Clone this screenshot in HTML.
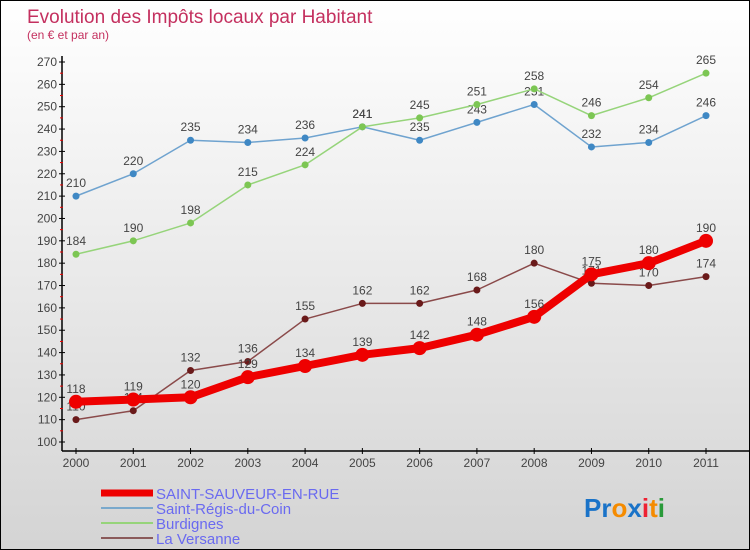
<!DOCTYPE html>
<html><head><meta charset="utf-8"><style>
body{margin:0}
#c{position:relative;width:748px;height:548px;border:1px solid #000;background:linear-gradient(#ffffff,#d4d4d4);font-family:"Liberation Sans",sans-serif;overflow:hidden}
</style></head><body>
<div id="c">
<svg width="748" height="548" id="svg" style="position:absolute;left:0;top:0">
<text x="26" y="22" font-size="19" fill="#c4305f">Evolution des Impôts locaux par Habitant</text>
<text x="26" y="38" font-size="12" fill="#c4305f">(en € et par an)</text>
<g id="axes"></g><g id="series"></g>
<g>
<line x1="100" y1="492" x2="152" y2="492" stroke="#e00" stroke-width="7"/>
<text x="155" y="498" font-size="15" fill="#6a6af0">SAINT-SAUVEUR-EN-RUE</text>
<line x1="100" y1="507" x2="152" y2="507" stroke="#7aa9cc" stroke-width="2"/>
<text x="155" y="513" font-size="15" fill="#6a6af0">Saint-Régis-du-Coin</text>
<line x1="100" y1="522" x2="152" y2="522" stroke="#96d47a" stroke-width="2"/>
<text x="155" y="528" font-size="15" fill="#6a6af0">Burdignes</text>
<line x1="100" y1="537" x2="152" y2="537" stroke="#8a5a5a" stroke-width="2"/>
<text x="155" y="543" font-size="15" fill="#6a6af0">La Versanne</text>
</g>
<g font-size="26" font-weight="bold">
<text x="583" y="516"><tspan fill="#1a73c8">Pr</tspan><tspan fill="#f58b00">o</tspan><tspan fill="#1a73c8">x</tspan><tspan fill="#e23">i</tspan><tspan fill="#f58b00">t</tspan><tspan fill="#2a9a3a">i</tspan></text>
</g>
</svg>
</div>
<script>
const years=[2000,2001,2002,2003,2004,2005,2006,2007,2008,2009,2010,2011];
const ssr=[118,119,120,129,134,139,142,148,156,175,180,190];
const regis=[210,220,235,234,236,241,235,243,251,232,234,246];
const burd=[184,190,198,215,224,241,245,251,258,246,254,265];
const vers=[110,114,132,136,155,162,162,168,180,171,170,174];
const yTicks=[100,110,120,130,140,150,160,170,180,190,200,210,220,230,240,250,260,270];
const NS="http://www.w3.org/2000/svg";
function X(i){return 75+i*(705-75)/(years.length-1);}
function Y(v){return 441-(v-100)*(380/170);}
function mk(t,a,p){const e=document.createElementNS(NS,t);for(const k in a)e.setAttribute(k,a[k]);p.appendChild(e);return e;}
const ax=document.getElementById('axes');
const ya=mk('line',{x1:61,y1:55,x2:61,y2:450,stroke:'#000','stroke-width':1.5},ax);


const xa=mk('line',{x1:61,y1:450,x2:748,y2:450,stroke:'#000','stroke-width':1.5},ax);


yTicks.forEach(v=>{
 mk('line',{x1:58,y1:Y(v),x2:64,y2:Y(v),stroke:'#000'},ax);
 if(v<270)mk('line',{x1:59,y1:Y(v+5),x2:62,y2:Y(v+5),stroke:'#e00'},ax);
 const t=mk('text',{x:56,y:Y(v)+4,'font-size':12,fill:'#444','text-anchor':'end'},ax);t.textContent=v;
 
 
});
years.forEach((yr,i)=>{
 mk('line',{x1:X(i),y1:447,x2:X(i),y2:453,stroke:'#000'},ax);
 const t=mk('text',{x:X(i),y:466,'font-size':12,fill:'#444','text-anchor':'middle'},ax);t.textContent=yr;
 
 
});
const sg=document.getElementById('series');
function draw(vals,color,w,r,name,dot){
 const g=mk('g',{},sg);
 
 
 mk('polyline',{points:vals.map((v,i)=>X(i)+','+Y(v)).join(' '),fill:'none',stroke:color,'stroke-width':w,'stroke-linejoin':'round'},g);
 vals.forEach((v,i)=>{
  const c=mk('circle',{cx:X(i),cy:Y(v),r:r,fill:dot},g);
  
  
  const t=mk('text',{x:X(i),y:Y(v)-9,'font-size':12,fill:'#444','text-anchor':'middle'},g);t.textContent=v;
 });
}
draw(regis,'#6fa3cf',1.5,3.5,'series-saint-regis','#3f88c4');
draw(burd,'#96d47a',1.5,3.5,'series-burdignes','#7cc653');
draw(vers,'#8a4a4a',1.5,3.5,'series-la-versanne','#6a1a1a');
draw(ssr,'#ee0000',8,7,'series-saint-sauveur','#ee0000');
</script>
</body></html>
